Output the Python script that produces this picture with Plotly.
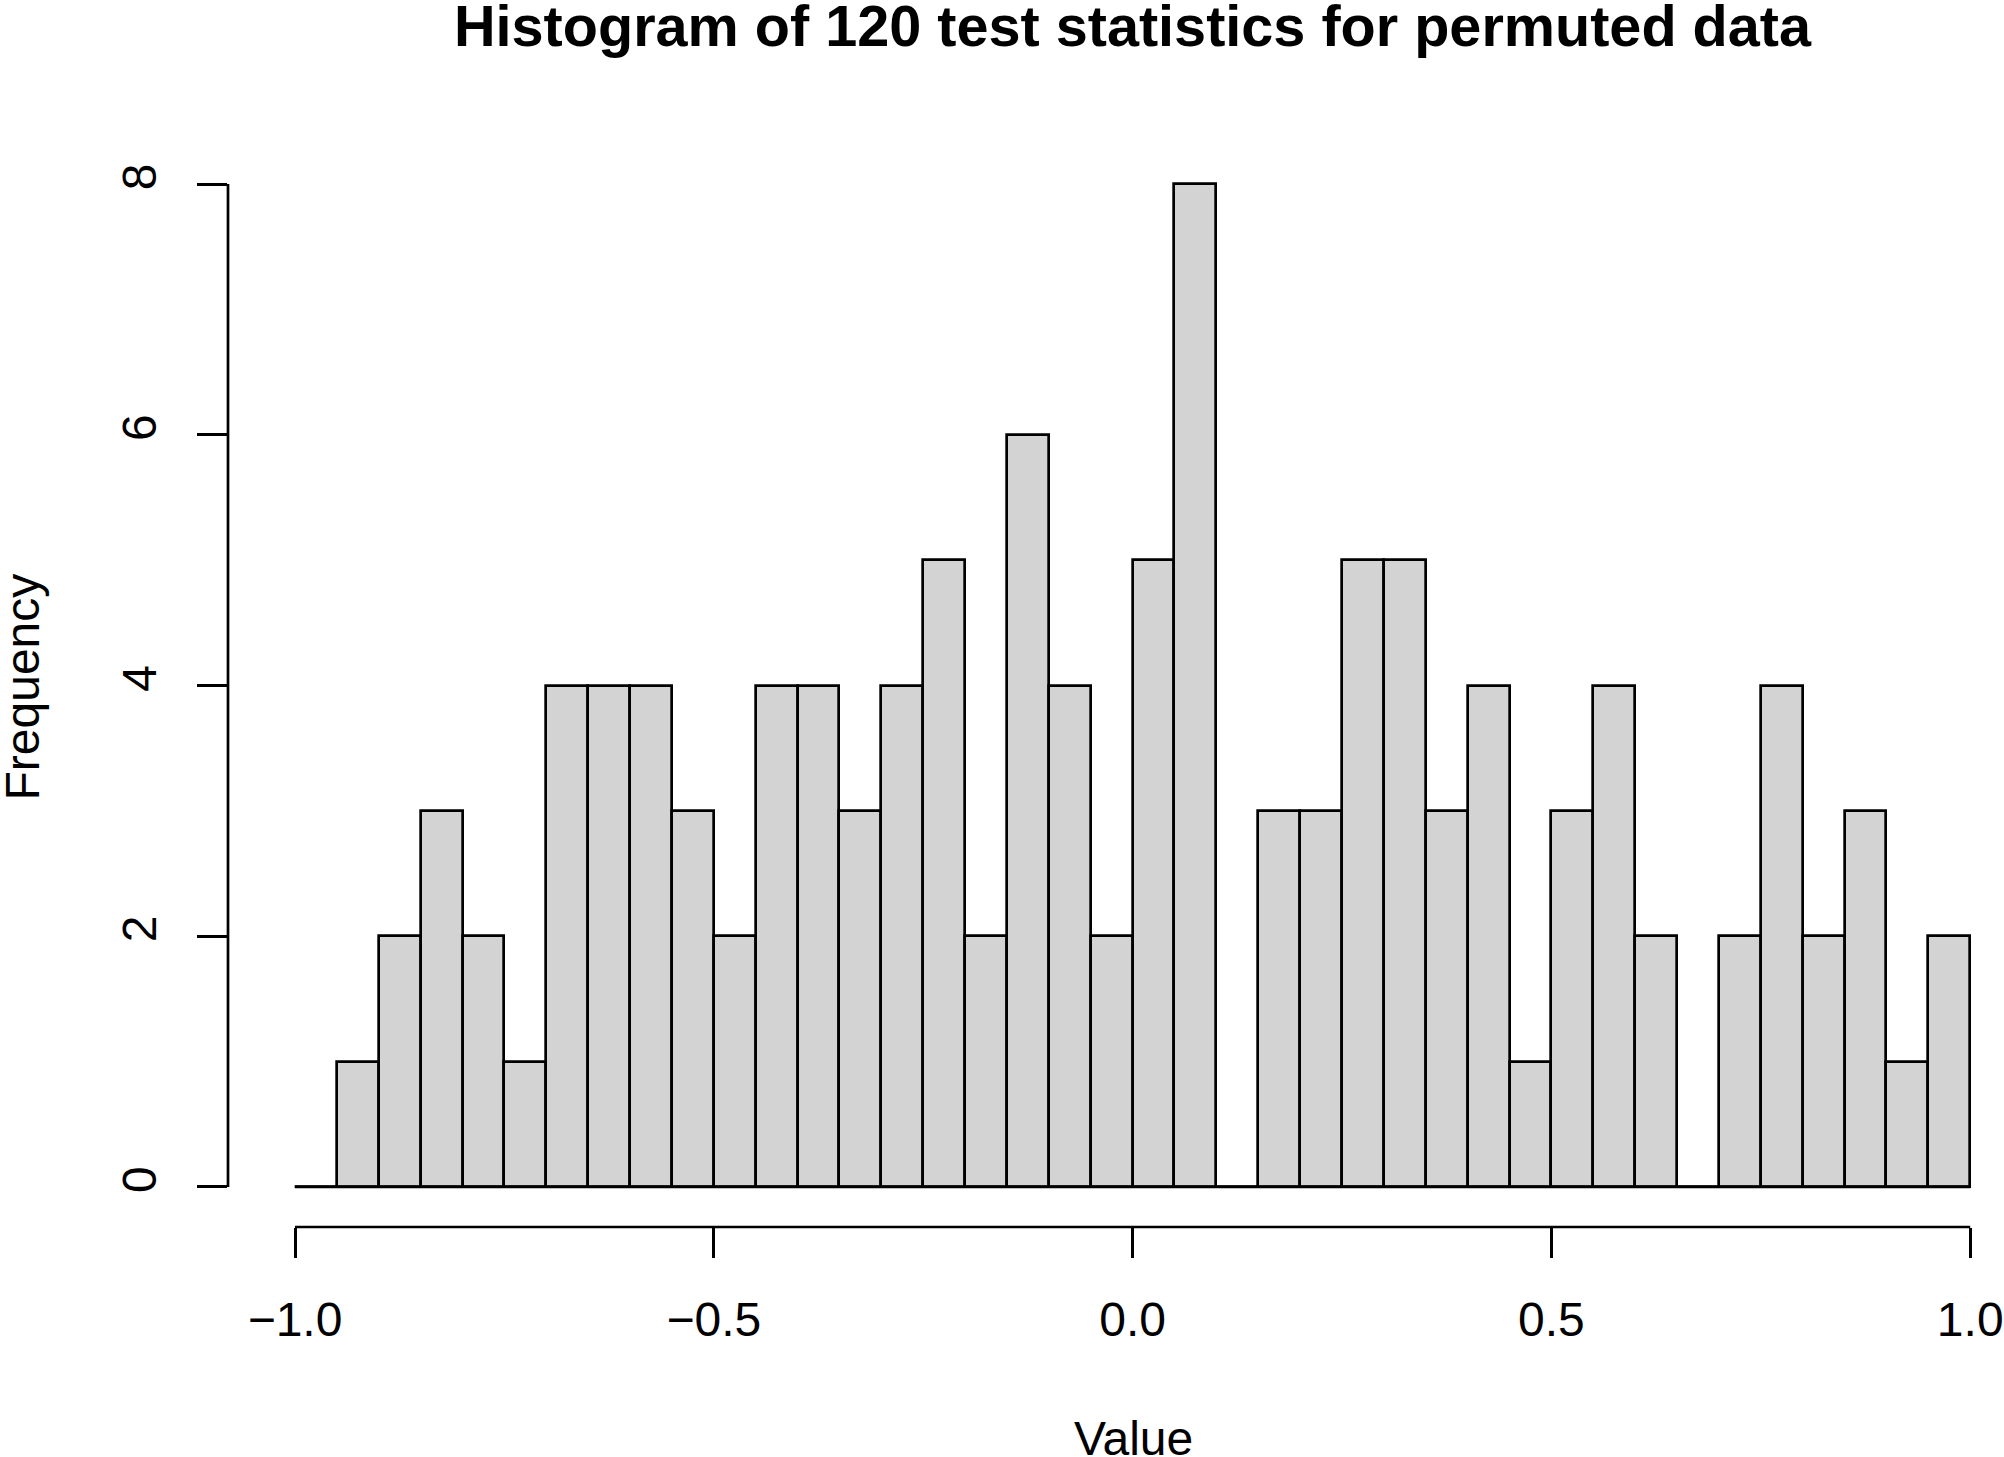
import plotly.graph_objects as go

# Histogram data (bin breaks and counts)
breaks = [-1.00, -0.95, -0.90, -0.85, -0.80, -0.75, -0.70, -0.65, -0.60, -0.55,
          -0.50, -0.45, -0.40, -0.35, -0.30, -0.25, -0.20, -0.15, -0.10, -0.05,
          0.00, 0.05, 0.10, 0.15, 0.20, 0.25, 0.30, 0.35, 0.40, 0.45,
          0.50, 0.55, 0.60, 0.65, 0.70, 0.75, 0.80, 0.85, 0.90, 0.95, 1.00]
counts = [0, 1, 2, 3, 2, 1, 4, 4, 4, 3,
          2, 4, 4, 3, 4, 5, 2, 6, 4, 2,
          5, 8, 0, 3, 3, 5, 5, 3, 4, 1,
          3, 4, 2, 0, 2, 4, 2, 3, 1, 2]

x_tickvals = [-1.0, -0.5, 0.0, 0.5, 1.0]
x_ticktext = ["\u22121.0", "\u22120.5", "0.0", "0.5", "1.0"]
y_tickvals = [0, 2, 4, 6, 8]
y_ticktext = ["0", "2", "4", "6", "8"]

title_text = "Histogram of 120 test statistics for permuted data"
x_label = "Value"
y_label = "Frequency"

FONT = "Liberation Sans, Arial, Helvetica, sans-serif"
LW = 2.7

W, H = 2004, 1457
ML, MR, MT, MB = 228, 0, 144, 230
plot_w = W - ML - MR
plot_h = H - MT - MB
px_per_x = 837.6
x0 = -1.08
x1 = x0 + plot_w / px_per_x

mids = [(breaks[i] + breaks[i + 1]) / 2 for i in range(len(counts))]
widths = [breaks[i + 1] - breaks[i] for i in range(len(counts))]

fig = go.Figure()
fig.add_trace(go.Scatter(
    x=[breaks[0], breaks[-1]], y=[0, 0], mode="lines",
    line=dict(color="black", width=LW), showlegend=False, hoverinfo="skip"))
fig.add_trace(go.Bar(
    x=mids, y=counts, width=widths,
    marker=dict(color="#D3D3D3", line=dict(color="black", width=LW)),
    showlegend=False))

# axis lines spanning tick range (R style)
fig.add_shape(type="line", xref="x", yref="paper",
              x0=x_tickvals[0], x1=x_tickvals[-1], y0=0, y1=0,
              line=dict(color="black", width=LW))
fig.add_shape(type="line", xref="paper", yref="y",
              x0=0, x1=0, y0=y_tickvals[0], y1=y_tickvals[-1],
              line=dict(color="black", width=LW))

title_cx = (1133 - ML) / plot_w

fig.add_annotation(text=x_label, xref="paper", yref="paper",
                   x=title_cx, y=(MT + plot_h - 1438) / plot_h,
                   xanchor="center", yanchor="middle", showarrow=False,
                   font=dict(family=FONT, size=48, color="black"))
fig.add_annotation(text=y_label, xref="paper", yref="paper",
                   x=(22 - ML) / plot_w, y=0.5 - (685.5 - 683.5) / plot_h,
                   xanchor="center", yanchor="middle", textangle=-90,
                   showarrow=False,
                   font=dict(family=FONT, size=48, color="black"))
fig.add_annotation(text="<b>" + title_text + "</b>", xref="paper", yref="paper",
                   x=title_cx, y=(MT + plot_h - 26) / plot_h,
                   xanchor="center", yanchor="middle", showarrow=False,
                   font=dict(family=FONT, size=57.6, color="black"))

fig.update_layout(
    width=W, height=H,
    margin=dict(l=ML, r=MR, t=MT, b=MB, pad=0),
    paper_bgcolor="white", plot_bgcolor="white",
    bargap=0,
    font=dict(family=FONT, size=48, color="black"),
    xaxis=dict(range=[x0, x1], tickvals=x_tickvals, ticktext=x_ticktext,
               ticks="outside", ticklen=30, tickwidth=LW, tickcolor="black",
               ticklabelstandoff=20,
               showline=False, showgrid=False, zeroline=False,
               automargin=False, tickfont=dict(size=48)),
    yaxis=dict(range=[-0.32, 8.32], tickvals=y_tickvals, ticktext=y_ticktext,
               ticks="outside", ticklen=30, tickwidth=LW, tickcolor="black",
               tickangle=-90, ticklabelstandoff=22,
               showline=False, showgrid=False, zeroline=False,
               automargin=False, tickfont=dict(size=48)),
)

fig.write_html("out.html")
